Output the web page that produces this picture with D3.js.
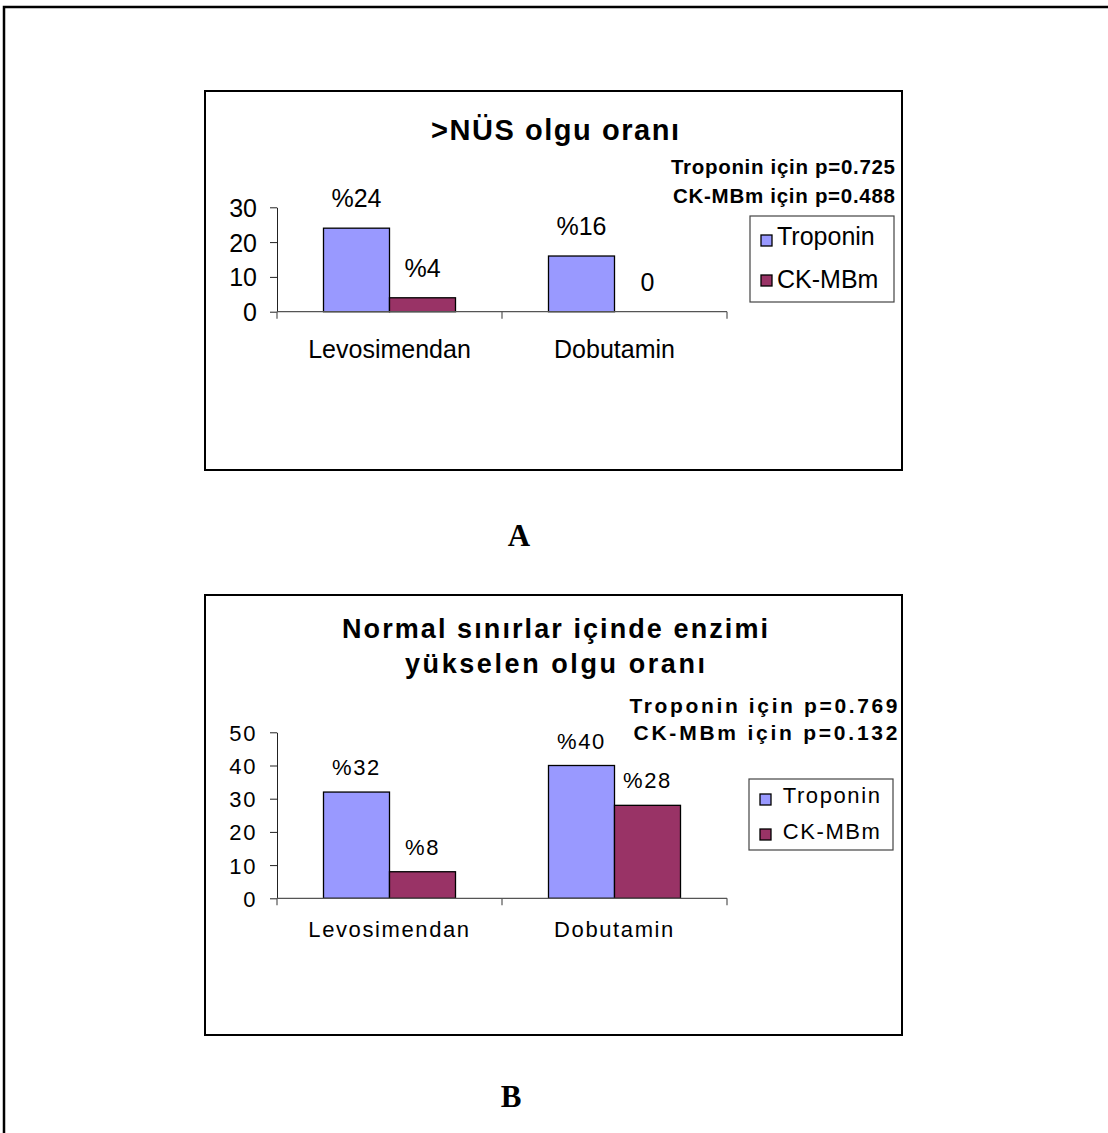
<!DOCTYPE html>
<html>
<head>
<meta charset="utf-8">
<script src="https://cdn.jsdelivr.net/npm/d3@7"></script>
<style>
  html, body { margin: 0; padding: 0; background: #fff; }
  svg { display: block; }
</style>
</head>
<body>
<svg id="page" width="1108" height="1133"></svg>
<script>
// ---- data ----
const categories = ["Levosimendan", "Dobutamin"];
const seriesNames = ["Troponin", "CK-MBm"];
const seriesColors = ["#9999FF", "#993366"];

// Panel A: >NÜS olgu oranı
const titleA = [">NÜS olgu oranı"];
const nusTroponin = [24, 16];
const nusCkmb = [4, 0];
const nusTicks = [0, 10, 20, 30];
const nusPValues = ["Troponin için p=0.725", "CK-MBm için p=0.488"];

// Panel B: normal sınırlar içinde enzimi yükselen olgu oranı
const titleB = ["Normal sınırlar içinde enzimi", "yükselen olgu oranı"];
const normalTroponin = [32, 40];
const normalCkmb = [8, 28];
const normalTicks = [0, 10, 20, 30, 40, 50];
const normalPValues = ["Troponin için p=0.769", "CK-MBm için p=0.132"];

const panelLetters = ["A", "B"];

// ---- drawing ----
const svg = d3.select("#page");
const SANS = "'Liberation Sans', Arial, Helvetica, sans-serif";
const SERIF = "'Liberation Serif', 'Times New Roman', serif";

// outer page frame (top and left rules)
svg.append("path")
  .attr("d", "M4,1133 V7 H1108")
  .attr("fill", "none")
  .attr("stroke", "#000")
  .attr("stroke-width", 2.5);

function valueLabel(v) { return v === 0 ? "0" : "%" + v; }

function drawPanel(p) {
  const g = svg.append("g");
  const [bx, by, bw, bh] = p.box;

  g.append("rect")
    .attr("x", bx).attr("y", by).attr("width", bw).attr("height", bh)
    .attr("fill", "#fff").attr("stroke", "#000").attr("stroke-width", 2);

  const x = d3.scaleBand().domain(categories).range([277, 727]);
  const groupW = 132;
  const xs = d3.scaleBand().domain(seriesNames).range([0, groupW]);
  const inset = (x.bandwidth() - groupW) / 2;
  const y = d3.scaleLinear().domain([0, p.yMax]).range([p.y0, p.yTop]);
  const color = d3.scaleOrdinal().domain(seriesNames).range(seriesColors);

  const rows = [];
  categories.forEach((c, i) => {
    seriesNames.forEach((s, j) => rows.push({ c, s, v: p.values[j][i] }));
  });

  // bars
  g.append("g").selectAll("rect")
    .data(rows.filter(d => d.v > 0))
    .join("rect")
    .attr("x", d => x(d.c) + inset + xs(d.s))
    .attr("y", d => y(d.v))
    .attr("width", xs.bandwidth())
    .attr("height", d => y(0) - y(d.v))
    .attr("fill", d => color(d.s))
    .attr("stroke", "#000")
    .attr("stroke-width", 1.3);

  // value labels
  g.append("g").selectAll("text")
    .data(rows)
    .join("text")
    .attr("x", d => x(d.c) + inset + xs(d.s) + xs.bandwidth() / 2)
    .attr("y", d => y(d.v) - p.labelGap)
    .attr("text-anchor", "middle")
    .style("font-family", SANS)
    .style("font-size", p.fontSize + "px")
    .style("letter-spacing", p.spacing + "px")
    .text(d => valueLabel(d.v));

  // y axis
  const yAxis = d3.axisLeft(y).tickValues(p.ticks).tickSize(7).tickSizeOuter(0).tickPadding(13);
  const ya = g.append("g").attr("transform", "translate(277,0)").call(yAxis);
  ya.select(".domain").attr("stroke", "#222");
  ya.selectAll(".tick line").attr("stroke", "#222");
  ya.selectAll(".tick text")
    .attr("dy", "0.36em")
    .attr("fill", "#000")
    .style("font-family", SANS)
    .style("font-size", p.fontSize + "px")
    .style("letter-spacing", p.spacing + "px");

  // x axis: base line, category boundary ticks, category labels
  const [x0, x1] = x.range();
  g.append("line")
    .attr("x1", x0).attr("x2", x1).attr("y1", y(0)).attr("y2", y(0))
    .attr("stroke", "#555").attr("stroke-width", 1.2);
  const bounds = categories.map(c => x(c)).concat([x1]);
  g.append("g").selectAll("line")
    .data(bounds)
    .join("line")
    .attr("x1", d => d).attr("x2", d => d)
    .attr("y1", y(0)).attr("y2", y(0) + 7)
    .attr("stroke", "#555").attr("stroke-width", 1.2);
  g.append("g").selectAll("text")
    .data(categories)
    .join("text")
    .attr("x", d => x(d) + x.bandwidth() / 2)
    .attr("y", p.catBaseline)
    .attr("text-anchor", "middle")
    .style("font-family", SANS)
    .style("font-size", p.fontSize + "px")
    .style("letter-spacing", p.spacing + "px")
    .text(d => d);

  // title
  g.append("g").selectAll("text")
    .data(p.title)
    .join("text")
    .attr("x", p.titleX)
    .attr("y", (d, i) => p.titleBaselines[i])
    .attr("text-anchor", "middle")
    .attr("textLength", (d, i) => p.titleLengths[i])
    .attr("lengthAdjust", "spacing")
    .style("font-family", SANS)
    .style("font-weight", "bold")
    .style("font-size", p.titleSize + "px")
    .text(d => d);

  // p-value notes
  g.append("g").selectAll("text")
    .data(p.pValues)
    .join("text")
    .attr("x", p.pRight)
    .attr("y", (d, i) => p.pBaselines[i])
    .attr("text-anchor", "end")
    .attr("textLength", (d, i) => p.pLengths[i])
    .attr("lengthAdjust", "spacing")
    .style("font-family", SANS)
    .style("font-weight", "bold")
    .style("font-size", p.pSize + "px")
    .text(d => d);

  // legend
  const [lx, ly, lw, lh] = p.legendBox;
  g.append("rect")
    .attr("x", lx).attr("y", ly).attr("width", lw).attr("height", lh)
    .attr("fill", "#fff").attr("stroke", "#444").attr("stroke-width", 1.2);
  const li = g.append("g").selectAll("g")
    .data(seriesNames)
    .join("g");
  li.append("rect")
    .attr("x", lx + 11)
    .attr("y", (d, i) => p.legendSquareY[i])
    .attr("width", 11).attr("height", 11)
    .attr("fill", d => color(d))
    .attr("stroke", "#000").attr("stroke-width", 1.3);
  li.append("text")
    .attr("x", p.legendTextX)
    .attr("y", (d, i) => p.legendBaselines[i])
    .style("font-family", SANS)
    .style("font-size", p.legendSize + "px")
    .style("letter-spacing", p.spacing + "px")
    .text(d => d);
}

drawPanel({
  box: [205, 91, 697, 379],
  values: [nusTroponin, nusCkmb],
  yMax: 30, ticks: nusTicks, y0: 311.7, yTop: 207.3,
  fontSize: 25, spacing: 0, labelGap: 21, catBaseline: 357.7,
  title: titleA, titleX: 555, titleBaselines: [140], titleLengths: [248], titleSize: 29,
  pValues: nusPValues, pRight: 895, pBaselines: [174, 203], pLengths: [224, 222], pSize: 20.5,
  legendBox: [750, 216, 144, 86], legendSquareY: [235, 275], legendTextX: 777,
  legendBaselines: [245, 288], legendSize: 25
});

drawPanel({
  box: [205, 595, 697, 440],
  values: [normalTroponin, normalCkmb],
  yMax: 50, ticks: normalTicks, y0: 898.3, yTop: 732.3,
  fontSize: 22, spacing: 1.6, labelGap: 17, catBaseline: 936.7,
  title: titleB, titleX: 555, titleBaselines: [638, 673], titleLengths: [426, 300], titleSize: 27,
  pValues: normalPValues, pRight: 897.5, pBaselines: [712.7, 740], pLengths: [268, 264], pSize: 21,
  legendBox: [749, 779, 144, 71], legendSquareY: [794, 829], legendTextX: 782.7,
  legendBaselines: [803.3, 839.3], legendSize: 22
});

// panel captions
svg.append("g").selectAll("text")
  .data(panelLetters)
  .join("text")
  .attr("x", (d, i) => [519, 511][i])
  .attr("y", (d, i) => [545.7, 1107][i])
  .attr("text-anchor", "middle")
  .style("font-family", SERIF)
  .style("font-weight", "bold")
  .style("font-size", "31px")
  .text(d => d);
</script>
</body>
</html>
